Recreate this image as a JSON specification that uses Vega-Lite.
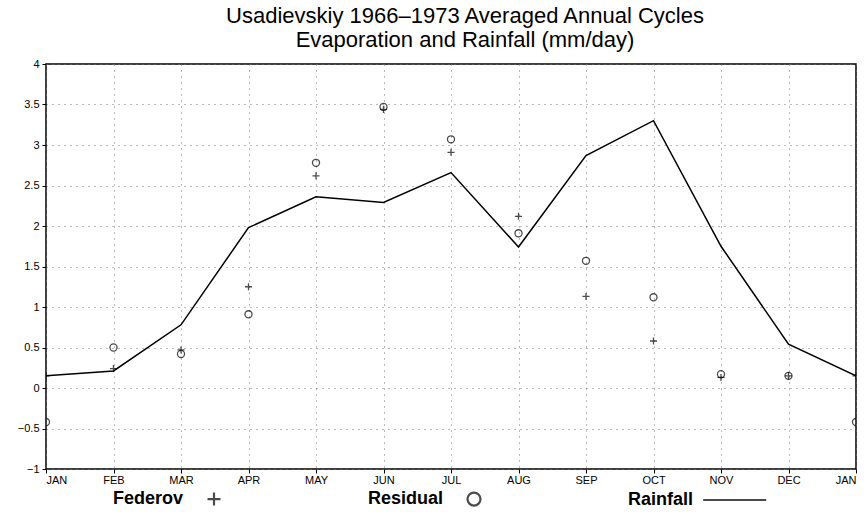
{
  "$schema": "https://vega.github.io/schema/vega-lite/v6.json",
  "width": 810,
  "height": 405,
  "autosize": "none",
  "padding": {"left": 46, "top": 64, "right": 11, "bottom": 45},
  "background": "white",
  "title": {
    "text": ["Usadievskiy 1966\u20131973 Averaged Annual Cycles", "Evaporation and Rainfall (mm/day)"],
    "font": "Liberation Sans",
    "fontSize": 22,
    "fontWeight": "normal",
    "color": "black",
    "anchor": "middle",
    "dx": 14,
    "offset": 6,
    "lineHeight": 24
  },
  "config": {
    "view": {"stroke": "black", "strokeWidth": 1.5},
    "axis": {
      "domain": false,
      "grid": true,
      "gridColor": "#777",
      "gridDash": [1, 5],
      "gridWidth": 1,
      "tickColor": "black",
      "tickSize": 4,
      "labelFont": "Liberation Sans",
      "labelFontSize": 11,
      "labelColor": "black",
      "title": null
    }
  },
  "data": {
    "values": [
      {"t": 0, "series": "Rainfall", "v": 0.15},
      {"t": 1, "series": "Rainfall", "v": 0.21},
      {"t": 2, "series": "Rainfall", "v": 0.78},
      {"t": 3, "series": "Rainfall", "v": 1.98},
      {"t": 4, "series": "Rainfall", "v": 2.36},
      {"t": 5, "series": "Rainfall", "v": 2.29},
      {"t": 6, "series": "Rainfall", "v": 2.66},
      {"t": 7, "series": "Rainfall", "v": 1.74},
      {"t": 8, "series": "Rainfall", "v": 2.87},
      {"t": 9, "series": "Rainfall", "v": 3.30},
      {"t": 10, "series": "Rainfall", "v": 1.75},
      {"t": 11, "series": "Rainfall", "v": 0.54},
      {"t": 12, "series": "Rainfall", "v": 0.15},
      {"t": 0, "series": "Federov", "v": 0.15},
      {"t": 1, "series": "Federov", "v": 0.24},
      {"t": 2, "series": "Federov", "v": 0.47},
      {"t": 3, "series": "Federov", "v": 1.25},
      {"t": 4, "series": "Federov", "v": 2.62},
      {"t": 5, "series": "Federov", "v": 3.44},
      {"t": 6, "series": "Federov", "v": 2.91},
      {"t": 7, "series": "Federov", "v": 2.12},
      {"t": 8, "series": "Federov", "v": 1.13},
      {"t": 9, "series": "Federov", "v": 0.58},
      {"t": 10, "series": "Federov", "v": 0.13},
      {"t": 11, "series": "Federov", "v": 0.15},
      {"t": 12, "series": "Federov", "v": 0.15},
      {"t": 0, "series": "Residual", "v": -0.42},
      {"t": 1, "series": "Residual", "v": 0.50},
      {"t": 2, "series": "Residual", "v": 0.42},
      {"t": 3, "series": "Residual", "v": 0.91},
      {"t": 4, "series": "Residual", "v": 2.78},
      {"t": 5, "series": "Residual", "v": 3.47},
      {"t": 6, "series": "Residual", "v": 3.07},
      {"t": 7, "series": "Residual", "v": 1.91},
      {"t": 8, "series": "Residual", "v": 1.57},
      {"t": 9, "series": "Residual", "v": 1.12},
      {"t": 10, "series": "Residual", "v": 0.17},
      {"t": 11, "series": "Residual", "v": 0.15},
      {"t": 12, "series": "Residual", "v": -0.42}
    ]
  },
  "encoding": {
    "x": {
      "field": "t",
      "type": "quantitative",
      "scale": {"domain": [0, 12], "nice": false, "zero": false},
      "axis": {
        "values": [0, 1, 2, 3, 4, 5, 6, 7, 8, 9, 10, 11, 12],
        "labelExpr": "['JAN','FEB','MAR','APR','MAY','JUN','JUL','AUG','SEP','OCT','NOV','DEC','JAN'][datum.value]",
        "labelPadding": 1
      }
    },
    "y": {
      "field": "v",
      "type": "quantitative",
      "scale": {"domain": [-1, 4], "nice": false, "zero": false},
      "axis": {
        "values": [-1, -0.5, 0, 0.5, 1, 1.5, 2, 2.5, 3, 3.5, 4],
        "format": "~g",
        "labelPadding": 3
      }
    },
    "color": {
      "field": "series",
      "type": "nominal",
      "scale": {"domain": ["Federov", "Residual", "Rainfall"], "range": ["black", "black", "black"]},
      "legend": {
        "title": null,
        "orient": "none",
        "direction": "horizontal",
        "legendX": 159,
        "legendY": 426,
        "labelFont": "Liberation Sans",
        "labelFontSize": 18,
        "labelFontWeight": "bold",
        "labelColor": "black",
        "labelAlign": "right",
        "labelOffset": -40,
        "symbolSize": 169,
        "symbolStrokeWidth": 2.2,
        "symbolStrokeColor": "black",
        "symbolFillColor": "transparent",
        "columnPadding": 142
      }
    }
  },
  "layer": [
    {
      "transform": [{"filter": "datum.series === 'Rainfall'"}],
      "mark": {"type": "line", "strokeWidth": 1.5, "clip": true}
    },
    {
      "transform": [{"filter": "datum.series !== 'Rainfall'"}],
      "mark": {"type": "point", "filled": false, "strokeWidth": 1.3, "size": 50, "clip": true},
      "encoding": {
        "shape": {
          "field": "series",
          "type": "nominal",
          "scale": {"domain": ["Federov", "Residual", "Rainfall"], "range": ["M-1,0H1M0,-1V1", "circle", "M-3.2,0H6.5"]}
        }
      }
    }
  ]
}
